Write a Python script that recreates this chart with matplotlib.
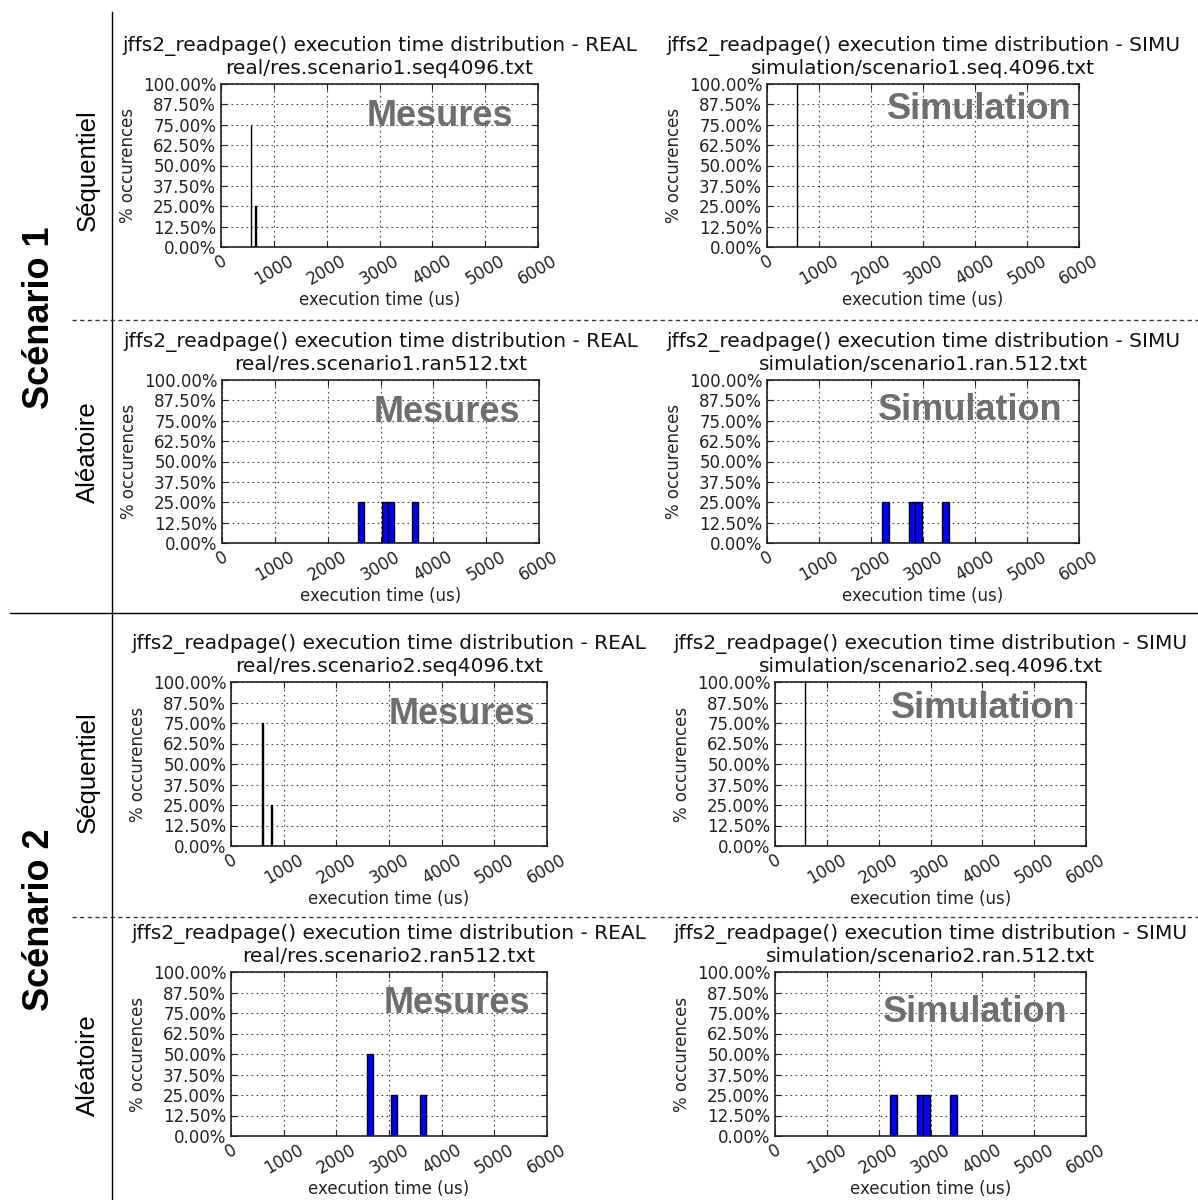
import numpy as np
import matplotlib
matplotlib.use("Agg")
import matplotlib.pyplot as plt
from matplotlib.lines import Line2D
from matplotlib.ticker import FuncFormatter, MultipleLocator

# ---------------------------------------------------------------------------
# Histogram data: first bin edge (us), bin width (us), percentage per bin
# ---------------------------------------------------------------------------
s1_seq_real_start, s1_seq_real_width = 564.5, 9.0
s1_seq_real_pct = [75, 0, 0, 0, 0, 0, 0, 0, 0, 25]

s1_seq_simu_start, s1_seq_simu_width = 574.5, 1.0
s1_seq_simu_pct = [100]

s1_ran_real_start, s1_ran_real_width = 2582.0, 113.2
s1_ran_real_pct = [25, 0, 0, 0, 25, 25, 0, 0, 0, 25]

s1_ran_simu_start, s1_ran_simu_width = 2209.0, 128.8
s1_ran_simu_pct = [25, 0, 0, 0, 25, 25, 0, 0, 0, 25]

s2_seq_real_start, s2_seq_real_width = 585.5, 19.0
s2_seq_real_pct = [75, 0, 0, 0, 0, 0, 0, 0, 0, 25]

s2_seq_simu_start, s2_seq_simu_width = 574.5, 1.0
s2_seq_simu_pct = [100]

s2_ran_real_start, s2_ran_real_width = 2584.0, 111.8
s2_ran_real_pct = [50, 0, 0, 0, 25, 0, 0, 0, 0, 25]

s2_ran_simu_start, s2_ran_simu_width = 2219.0, 128.9
s2_ran_simu_pct = [25, 0, 0, 0, 25, 25, 0, 0, 0, 25]

title_real = "jffs2_readpage() execution time distribution - REAL"
title_simu = "jffs2_readpage() execution time distribution - SIMU"
files = [
    "real/res.scenario1.seq4096.txt", "simulation/scenario1.seq.4096.txt",
    "real/res.scenario1.ran512.txt", "simulation/scenario1.ran.512.txt",
    "real/res.scenario2.seq4096.txt", "simulation/scenario2.seq.4096.txt",
    "real/res.scenario2.ran512.txt", "simulation/scenario2.ran.512.txt",
]
scenario_labels = ["Scénario 1", "Scénario 2"]
mode_labels = ["Séquentiel", "Aléatoire"]
x_ticks = [0, 1000, 2000, 3000, 4000, 5000, 6000]

W, H = 1198, 1200
fig = plt.figure(figsize=(W / 100, H / 100), dpi=100)
fig.patch.set_facecolor("white")


def rect(x0, x1, ytop, ybot):
    return [x0 / W, 1 - ybot / H, (x1 - x0) / W, (ybot - ytop) / H]


panels = [
    # (axes rect, start, width, pct, title, file, tag, tag position)
    (rect(221, 538, 84, 247), s1_seq_real_start, s1_seq_real_width, s1_seq_real_pct,
     title_real, files[0], "Mesures", (0.69, 0.80)),
    (rect(767, 1079, 84, 247), s1_seq_simu_start, s1_seq_simu_width, s1_seq_simu_pct,
     title_simu, files[1], "Simulation", (0.68, 0.845)),
    (rect(222, 539, 380, 543), s1_ran_real_start, s1_ran_real_width, s1_ran_real_pct,
     title_real, files[2], "Mesures", (0.71, 0.80)),
    (rect(767, 1079, 380, 543), s1_ran_simu_start, s1_ran_simu_width, s1_ran_simu_pct,
     title_simu, files[3], "Simulation", (0.65, 0.81)),
    (rect(231, 547, 682, 846), s2_seq_real_start, s2_seq_real_width, s2_seq_real_pct,
     title_real, files[4], "Mesures", (0.73, 0.80)),
    (rect(775, 1086, 682, 846), s2_seq_simu_start, s2_seq_simu_width, s2_seq_simu_pct,
     title_simu, files[5], "Simulation", (0.67, 0.84)),
    (rect(231, 547, 972, 1136), s2_ran_real_start, s2_ran_real_width, s2_ran_real_pct,
     title_real, files[6], "Mesures", (0.715, 0.81)),
    (rect(775, 1086, 972, 1136), s2_ran_simu_start, s2_ran_simu_width, s2_ran_simu_pct,
     title_simu, files[7], "Simulation", (0.645, 0.755)),
]

pct_fmt = FuncFormatter(lambda v, _: "%.2f%%" % v)

for r, start, width, pct, ttl, fname, tag, tagpos in panels:
    ax = fig.add_axes(r)
    lefts = start + width * np.arange(len(pct))
    ax.bar(lefts, pct, width=width, align="edge", color="#0000ff",
           edgecolor="black", linewidth=1.0, zorder=3)
    ax.set_xlim(0, 6000)
    ax.set_ylim(0, 100)
    ax.set_xticks(x_ticks)
    ax.yaxis.set_major_locator(MultipleLocator(12.5))
    ax.yaxis.set_major_formatter(pct_fmt)
    ax.tick_params(axis="both", labelsize=12, direction="in", length=4,
                   top=True, right=True, colors="#222222")
    for lbl in ax.get_xticklabels():
        lbl.set_rotation(30)
        lbl.set_ha("center")
    ax.grid(True, linestyle=(0, (1.5, 3)), color="#444444", linewidth=0.8, zorder=1)
    for sp in ax.spines.values():
        sp.set_linewidth(1.2)
        sp.set_color("#222222")
    ax.set_xlabel("execution time (us)", fontsize=12, color="#222222", labelpad=2)
    ax.set_ylabel("% occurences", fontsize=12, color="#222222")
    ax.set_title(ttl + "\n" + fname, fontsize=14.5, color="#111111", pad=7)
    ax.text(tagpos[0], tagpos[1], tag, transform=ax.transAxes,
            ha="center", va="center", fontsize=26, fontweight="bold",
            family="Liberation Sans", color="#6e6e6e", zorder=5)

# Row and scenario labels
for y, txt in [(318, scenario_labels[0]), (920, scenario_labels[1])]:
    fig.text(40 / W, 1 - y / H, txt, rotation=90, ha="center", va="center",
             fontsize=26, fontweight="bold", family="Liberation Sans")
for y, txt in [(170, mode_labels[0]), (452, mode_labels[1]),
               (772, mode_labels[0]), (1065, mode_labels[1])]:
    fig.text(88 / W, 1 - y / H, txt, rotation=90, ha="center", va="center",
             fontsize=18.5, family="Liberation Sans")

# Separating rules
fig.add_artist(Line2D([112 / W, 112 / W], [1 - 12 / H, 0], transform=fig.transFigure,
                      color="black", linewidth=1.0))
fig.add_artist(Line2D([10 / W, 1], [1 - 613 / H, 1 - 613 / H], transform=fig.transFigure,
                      color="black", linewidth=1.0))
for y in (320, 917):
    fig.add_artist(Line2D([72 / W, 1], [1 - y / H, 1 - y / H], transform=fig.transFigure,
                          color="#333333", linewidth=1.0, linestyle=(0, (3, 2.5))))

fig.savefig("out.png", dpi=100, facecolor="white")
